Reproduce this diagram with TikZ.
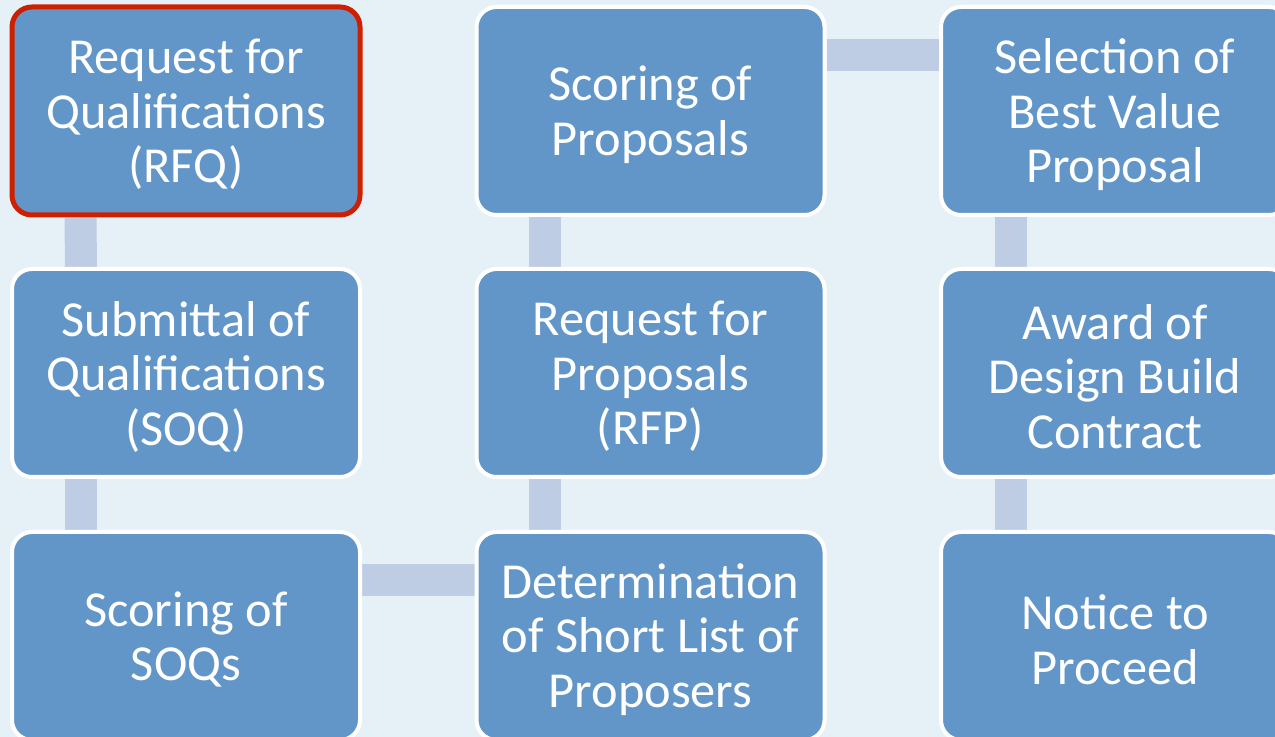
\documentclass[tikz,border=0pt]{standalone}
\usepackage{fontspec}
\setmainfont{Carlito}
\usetikzlibrary{backgrounds}
\definecolor{bgc}{RGB}{230,241,247}
\definecolor{boxc}{RGB}{98,150,200}
\definecolor{barc}{RGB}{191,205,228}
\definecolor{redc}{RGB}{204,32,0}
\tikzset{
  stepbox/.style={draw=white, line width=2pt, fill=boxc, rounded corners=10pt,
    minimum width=174pt, minimum height=104pt, inner sep=0pt},
  firstbox/.style={stepbox, draw=redc, line width=2.5pt},
  boxtext/.style={text=white, align=center, inner sep=0pt, yshift=-1.8pt,
    font=\fontsize{25.2pt}{27.2pt}\selectfont},
  barline/.style={draw=barc, line width=16pt}
}
\begin{document}
\begin{tikzpicture}[x=0.5pt,y=-0.5pt]
\useasboundingbox (0,0) rectangle (1275,737);
\begin{scope}[on background layer]
\fill[bgc] (0,0) rectangle (1275,737);
\end{scope}
\node[firstbox, label={[boxtext]center:Request for\\Qualifications\\(RFQ)}] (a1) at (186,111) {};
\node[stepbox, label={[boxtext]center:Submittal of\\Qualifications\\(SOQ)}] (a2) at (186,373) {};
\node[stepbox, label={[boxtext]center:Scoring of\\SOQs}] (a3) at (186,636) {};
\node[stepbox, label={[boxtext]center:Determination\\of Short List of\\Proposers}] (b3) at (650.5,636) {};
\node[stepbox, label={[boxtext]center:Request for\\Proposals\\(RFP)}] (b2) at (650.5,373) {};
\node[stepbox, label={[boxtext]center:Scoring of\\Proposals}] (b1) at (650.5,111) {};
\node[stepbox, label={[boxtext]center:Selection of\\Best Value\\Proposal}] (c1) at (1115,111) {};
\node[stepbox, label={[boxtext]center:Award of\\Design Build\\Contract}] (c2) at (1115,373) {};
\node[stepbox, label={[boxtext]center:Notice to\\Proceed}] (c3) at (1115,636) {};
\begin{scope}[on background layer]
\draw[barline] ([xshift=35.5pt]a1.south west) -- ([xshift=35.5pt]a2.north west);
\draw[barline] ([xshift=35.5pt]a2.south west) -- ([xshift=35.5pt]a3.north west);
\draw[barline] ([yshift=-25pt]a3.north east) -- ([yshift=-25pt]b3.north west);
\draw[barline] ([xshift=35pt]b3.north west) -- ([xshift=35pt]b2.south west);
\draw[barline] ([xshift=35pt]b2.north west) -- ([xshift=35pt]b1.south west);
\draw[barline] ([yshift=-25pt]b1.north east) -- ([yshift=-25pt]c1.north west);
\draw[barline] ([xshift=36pt]c1.south west) -- ([xshift=36pt]c2.north west);
\draw[barline] ([xshift=36pt]c2.south west) -- ([xshift=36pt]c3.north west);
\end{scope}
\end{tikzpicture}
\end{document}
